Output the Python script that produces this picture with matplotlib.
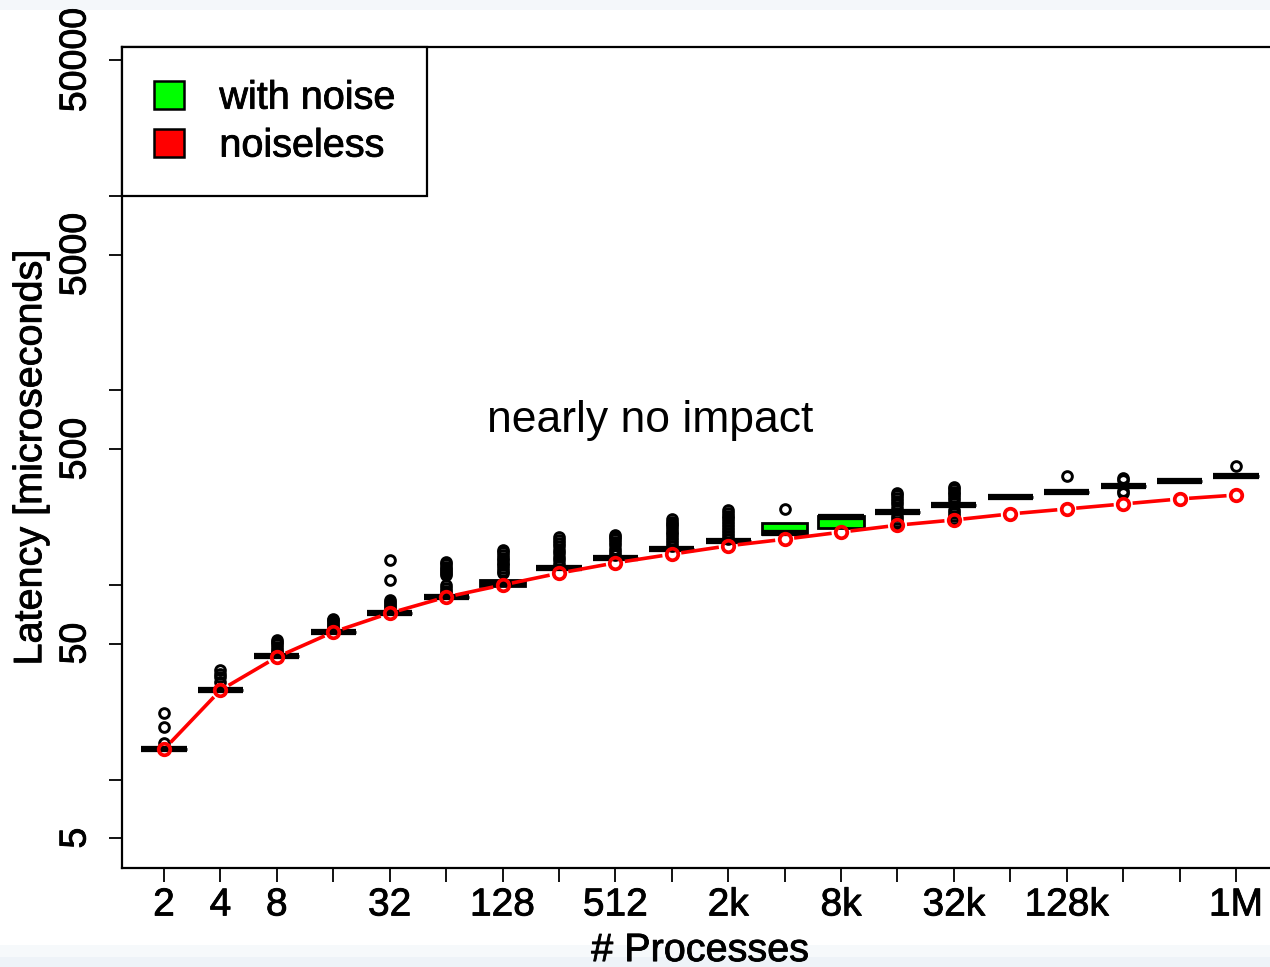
import numpy as np
import matplotlib
matplotlib.use("Agg")
import matplotlib.pyplot as plt
import matplotlib.patheffects as pe
from matplotlib.patches import Patch

plt.rcParams['font.family'] = ['Liberation Sans', 'DejaVu Sans']

# ---------------- data ----------------
procs = ["2", "4", "8", "16", "32", "64", "128", "256", "512", "1k", "2k", "4k",
         "8k", "16k", "32k", "64k", "128k", "256k", "512k", "1M"]
tick_labels = ["2", "4", "8", "", "32", "", "128", "", "512", "", "2k", "",
               "8k", "", "32k", "", "128k", "", "", "1M"]

noise_median = [14.3, 28.8, 43, 57.3, 72, 87, 103, 122, 138, 153, 168, 184,
                224, 237, 258, 283, 301, 324, 342, 363]
noise_q1 = [14.3, 28.8, 43, 57.3, 72, 87, 99, 122, 138, 153, 168, 182,
            197, 237, 258, 283, 301, 324, 342, 363]
noise_q3 = [14.3, 28.8, 43, 57.3, 72, 87, 106, 122, 138, 153, 168, 208,
            226, 237, 258, 283, 301, 324, 342, 363]
noise_outliers = [
    [15.4, 18.6, 21.9],
    [31.7, 33.5, 35.0, 36.5],
    [45, 46.5, 48, 49.5, 51, 52],
    [60, 61.5, 63, 64.5, 66, 67],
    [76, 78, 80, 82, 84, 106, 134],
    [91, 93, 96, 100, 112, 115, 118, 121, 124, 128, 131],
    [115, 118, 122, 126, 130, 134, 138, 142, 147, 151],
    [128, 134, 140, 146, 152, 158, 164, 170, 176],
    [142, 148, 154, 160, 166, 172, 177, 181],
    [158, 164, 170, 176, 182, 188, 194, 200, 206, 212, 218],
    [172, 178, 185, 192, 199, 206, 213, 220, 227, 235, 243],
    [246],
    [],
    [205, 212, 219, 226, 250, 260, 270, 280, 290, 297],
    [218, 226, 234, 242, 272, 282, 292, 302, 312, 319],
    [],
    [363],
    [297, 303, 345, 355],
    [],
    [409],
]
noiseless = [14.3, 28.8, 42.6, 57.3, 71.7, 86.7, 100, 115, 130, 144, 159, 172,
             187, 203, 216, 232, 246, 261, 277, 290]

# ---------------- figure ----------------
W, H = 1270, 967
fig = plt.figure(figsize=(W / 100, H / 100), dpi=100)
fig.patches.append(plt.Rectangle((0, 1 - 10 / H), 1, 10 / H, transform=fig.transFigure,
                                 facecolor='#f4f7fa', edgecolor='none', zorder=-5))
fig.patches.append(plt.Rectangle((0, 0), 1, 10 / H, transform=fig.transFigure,
                                 facecolor='#eef3f8', edgecolor='none', zorder=-5))
fig.patches.append(plt.Rectangle((0, 10 / H), 1, 12 / H, transform=fig.transFigure,
                                 facecolor='#f6f9fb', edgecolor='none', zorder=-5))
ax = fig.add_axes([122 / W, (H - 868) / H, (1278 - 122) / W, (868 - 47) / H])

positions = np.arange(1, len(procs) + 1)
ax.set_yscale('log')
ax.set_xlim(0.2556, 20.744)
ax.set_ylim(3.51, 58300)

stats = []
for i in range(len(procs)):
    stats.append(dict(med=noise_median[i], q1=noise_q1[i], q3=noise_q3[i],
                      whislo=noise_q1[i], whishi=noise_q3[i],
                      fliers=noise_outliers[i], label=procs[i]))

ax.bxp(stats, positions=positions, widths=0.8, patch_artist=True, showcaps=False,
       boxprops=dict(facecolor='#00FF00', edgecolor='black', linewidth=2.0),
       medianprops=dict(color='black', linewidth=4.5, solid_capstyle='butt'),
       whiskerprops=dict(color='black', linewidth=1.5),
       flierprops=dict(marker='o', markerfacecolor='none', markeredgecolor='black',
                       markersize=7, markeredgewidth=2.1),
       zorder=2)

# noiseless line, R type="b" style: segments with gaps around points
pts = ax.transData.transform(np.column_stack([positions, noiseless]))
inv = ax.transData.inverted()
gap = 9.5
for i in range(len(pts) - 1):
    a, b = pts[i], pts[i + 1]
    d = b - a
    L = np.hypot(*d)
    u = d / L
    seg = inv.transform(np.vstack([a + u * gap, b - u * gap]))
    ax.plot(seg[:, 0], seg[:, 1], color='red', lw=2.6, solid_capstyle='butt', zorder=3)
ax.plot(positions, noiseless, linestyle='none', marker='o', markersize=8.3,
        markerfacecolor='none', markeredgecolor='red', markeredgewidth=2.7, zorder=4)

# axes styling
for s in ax.spines.values():
    s.set_linewidth(1.6)
    s.set_color('black')

heavy = [pe.withStroke(linewidth=0.6, foreground='black')]

ax.set_xticks(positions)
ax.set_xticklabels(tick_labels, fontsize=28)
ax.tick_params(axis='x', length=10, width=1.3, pad=4)

ax.set_yticks([5, 10, 50, 100, 500, 1000, 5000, 10000, 50000])
ax.set_yticklabels(['5', '', '50', '', '500', '', '5000', '', '50000'],
                   fontsize=27, rotation=90, va='center')
ax.yaxis.set_minor_locator(matplotlib.ticker.NullLocator())
ax.tick_params(axis='y', length=9.5, width=1.3, pad=11)
for t in ax.get_xticklabels() + ax.get_yticklabels():
    t.set_path_effects(heavy)

ax.set_ylabel('Latency [microseconds]', fontsize=28.5, labelpad=6, path_effects=heavy)
ax.set_xlabel('# Processes', fontsize=28.5, labelpad=5.5, path_effects=heavy)

ax.text(9.61, 705, 'nearly no impact', fontsize=32, ha='center', va='center')

handles = [Patch(facecolor='#00FF00', edgecolor='black', linewidth=1.8, label='with noise'),
           Patch(facecolor='red', edgecolor='black', linewidth=1.8, label='noiseless')]
leg = ax.legend(handles=handles, loc='upper left', bbox_to_anchor=(0, 1),
                borderaxespad=0, fontsize=28.5, frameon=True, fancybox=False,
                edgecolor='black', framealpha=1, handlelength=0.76, handleheight=0.7,
                handletextpad=0.9, borderpad=0.8, labelspacing=0.25)
leg.get_frame().set_linewidth(1.6)
for t in leg.get_texts():
    t.set_path_effects(heavy)

fig.savefig('out.png', dpi=100)
